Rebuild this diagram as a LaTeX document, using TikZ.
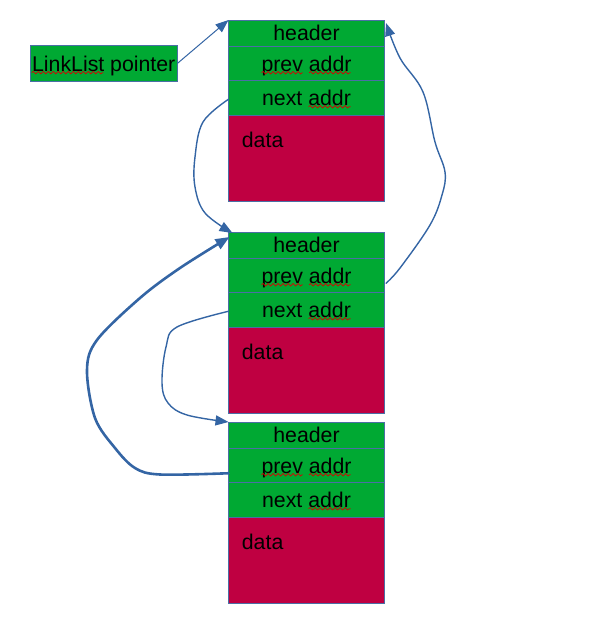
\documentclass[tikz,border=0pt]{standalone}
\usepackage{fontspec}
\setmainfont{Liberation Sans}
\usetikzlibrary{arrows.meta,calc,decorations.pathmorphing}
\definecolor{cellgreen}{HTML}{00A933}
\definecolor{cellred}{HTML}{BF0041}
\definecolor{linkblue}{HTML}{3465A4}
\definecolor{cellborder}{HTML}{4A6FA5}
\begin{document}
\begin{tikzpicture}[x=1pt,y=-1pt,
  cell/.style={draw=cellborder, line width=0.9pt, fill=cellgreen, minimum width=156pt, inner sep=0pt, outer sep=0pt,
    font=\fontsize{21.3}{25}\selectfont, text height=15.5pt, text depth=0pt, anchor=north west},
  datacell/.style={cell, fill=cellred},
  datatext/.style={font=\fontsize{21.3}{25}\selectfont, anchor=base west, inner sep=0pt},
  link/.style={draw=linkblue, line width=1.4pt, line cap=round, -{Triangle[length=13pt,width=10pt]}},
  thicklink/.style={draw=linkblue, line width=2.6pt, line cap=round, -{Triangle[length=14pt,width=11pt]}},
  squiggle/.style={draw=red!85!black, line width=0.7pt, decorate, decoration={snake, segment length=5pt, amplitude=1.2pt}}
]
\useasboundingbox (0,0) rectangle (605,629);

% LinkList pointer
\node[cell, minimum width=147.5pt, minimum height=35.3pt, anchor=center] (ll) at (103.75,63.35) {LinkList pointer};

% three list elements
\foreach \i/\top in {1/20, 2/232, 3/422}{
  \node[cell, minimum height=26pt] (h\i) at (228.5,\top) {header};
  \node[cell, minimum height=34.5pt] (p\i) at (228.5,\top+26) {prev addr};
  \node[cell, minimum height=34.5pt] (n\i) at (228.5,\top+60.5) {next addr};
  \node[datacell, minimum height=86.5pt] (d\i) at (228.5,\top+95) {};
  \node[datatext] (t\i) at ($(d\i.north west)+(13.2,32)$) {data};
}

% spell-check underlines
\draw[squiggle] ($(ll.center)+(-72,9.3)$) -- ($(ll.center)+(-0.5,9.3)$);
\foreach \i in {1,2,3}{
  \draw[squiggle] ($(p\i.center)+(-45,9.5)$) -- ($(p\i.center)+(-4,9.5)$);
  \draw[squiggle] ($(p\i.center)+(2.5,9.5)$) -- ($(p\i.center)+(44,9.5)$);
  \draw[squiggle] ($(n\i.center)+(2,9)$) -- ($(n\i.center)+(44,9)$);
}

% connectors
\draw[link, line width=1pt] (ll.east) -- (h1.north west);
\draw[link] plot[smooth, tension=0.6] coordinates {($(n1.west)+(0,1.5)$) (203,122) (195,157) (195,187) (205,213) ($(h2.north west)+(4,1)$)};
\draw[link] plot[smooth, tension=0.6] coordinates {($(p2.east)+(1.5,8)$) (400,268) (430,225) (442,195) (445,172) (435,142) (423,92) (400,58) ($(h1.north east)+(1.5,3)$)};
\draw[link] plot[smooth, tension=0.6] coordinates {($(n2.west)+(0,1.5)$) (177,327) (166,347) (162,383) (168,403) (187,415) ($(h3.north west)+(0,0)$)};
\draw[thicklink] plot[smooth, tension=0.55] coordinates {($(p3.west)+(0,8)$) (160,474.5) (135,468) (115,448) (95,418) (87,370) (97,340) (140,298) (180,268) ($(h2.north west)+(1,5)$)};
\end{tikzpicture}
\end{document}
